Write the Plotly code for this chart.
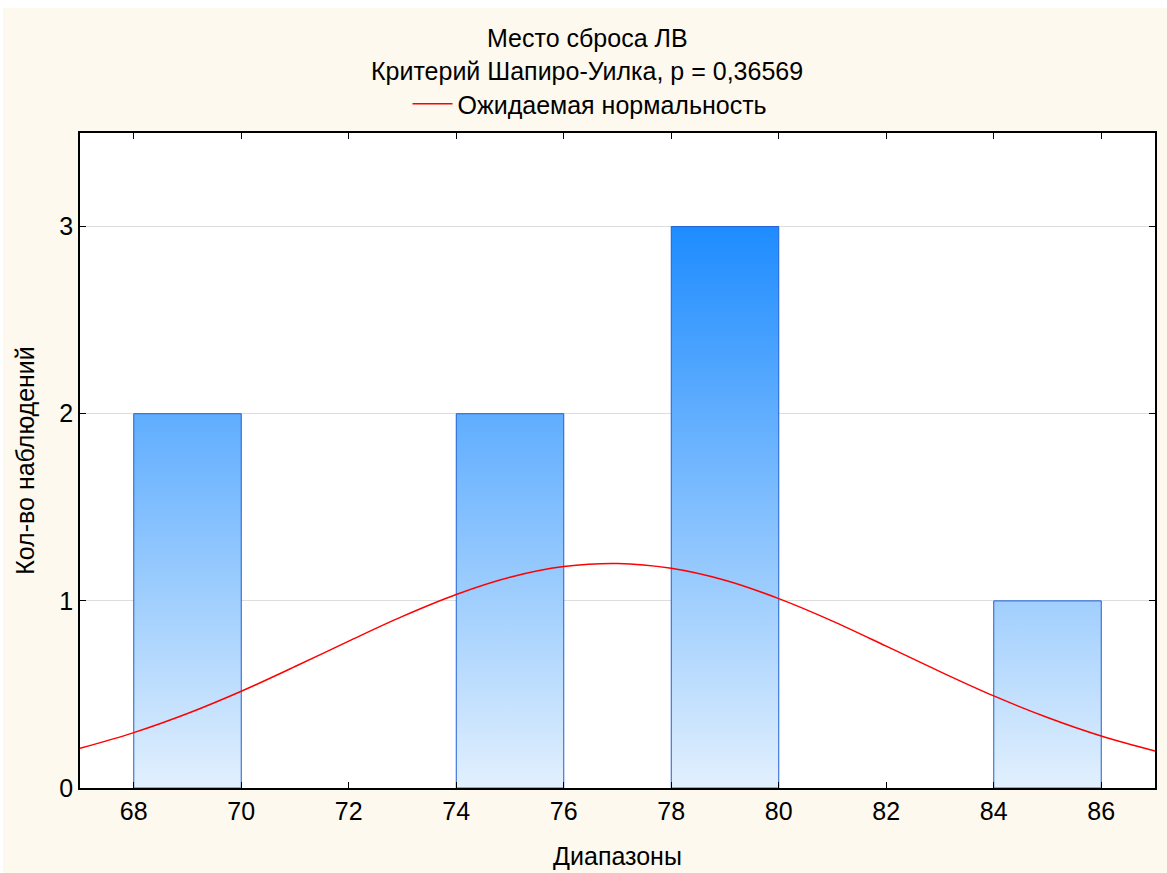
import plotly.graph_objects as go

bin_edges = [68, 70, 72, 74, 76, 78, 80, 82, 84, 86]
counts = [2, 0, 0, 2, 0, 3, 0, 0, 1]

curve_x = [67, 68, 69, 70, 71, 72, 73, 74, 75, 76, 77, 78, 79, 80, 81, 82, 83, 84, 85, 86, 87]
curve_y = [0.212, 0.296, 0.398, 0.517, 0.649, 0.785, 0.917, 1.034, 1.126, 1.183, 1.200,
           1.174, 1.110, 1.012, 0.892, 0.758, 0.622, 0.492, 0.377, 0.278, 0.198]

title1 = "Место сброса ЛВ"
title2 = "Критерий Шапиро-Уилка, p = 0,36569"
legend_name = "Ожидаемая нормальность"
x_title = "Диапазоны"
y_title = "Кол-во наблюдений"
x_ticks = [68, 70, 72, 74, 76, 78, 80, 82, 84, 86]
y_ticks = [0, 1, 2, 3]

FONT = "Liberation Sans, Arial, sans-serif"
FS = 25
fig = go.Figure()

for i, c in enumerate(counts):
    if c <= 0:
        continue
    x0, x1 = bin_edges[i], bin_edges[i + 1]
    fig.add_trace(go.Scatter(
        x=[x0, x0, x1, x1, x0], y=[0, c, c, 0, 0],
        mode="lines", fill="toself",
        line=dict(color="#1F5FD6", width=1),
        fillgradient=dict(type="vertical", start=0, stop=3,
                          colorscale=[[0, "#E2F0FD"], [1, "#1E8CFF"]]),
        showlegend=False, hoverinfo="skip",
    ))

fig.add_trace(go.Scatter(
    x=curve_x, y=curve_y, mode="lines",
    line=dict(color="#FF0000", width=1.5, shape="spline", smoothing=1),
    name=legend_name, showlegend=True,
))

W, H = 1167, 873
L, R, T, B = 80, 12, 133, 85
pw, ph = W - L - R, H - T - B

fig.add_shape(type="rect", xref="paper", yref="paper",
              x0=(3 - L) / pw, x1=(W - L) / pw, y0=-B / ph, y1=1 + (T - 8) / ph,
              fillcolor="#FDF9EE", line=dict(width=0), layer="below")
fig.add_shape(type="rect", xref="paper", yref="paper",
              x0=0, x1=1, y0=0, y1=1,
              fillcolor="white", line=dict(width=0), layer="below")

fig.add_annotation(text=title1, xref="paper", yref="paper", x=(587 - L) / pw,
                   y=1 + (T - 38) / ph, showarrow=False, xanchor="center", yanchor="middle",
                   font=dict(size=FS, color="black", family=FONT))
fig.add_annotation(text=title2, xref="paper", yref="paper", x=(587 - L) / pw,
                   y=1 + (T - 71) / ph, showarrow=False, xanchor="center", yanchor="middle",
                   font=dict(size=FS, color="black", family=FONT))

fig.update_layout(
    width=W, height=H,
    margin=dict(l=L, r=R, t=T, b=B, autoexpand=False),
    paper_bgcolor="white", plot_bgcolor="rgba(0,0,0,0)",
    font=dict(family=FONT, size=FS, color="black"),
    showlegend=True,
    legend=dict(orientation="h", x=(590 - L) / pw, xanchor="center",
                y=1 + (T - 104) / ph, yanchor="middle", bgcolor="rgba(0,0,0,0)",
                font=dict(size=FS), itemwidth=40),
    xaxis=dict(range=[67, 87], tickvals=x_ticks, ticks="inside", ticklen=6,
               tickcolor="black", showline=True, linecolor="black", linewidth=1.5,
               mirror="ticks", showgrid=False, zeroline=False, automargin=False,
               title=dict(text=x_title, font=dict(size=FS), standoff=24)),
    yaxis=dict(range=[0, 3.5], tickvals=y_ticks, ticks="inside", ticklen=6,
               tickcolor="black", showline=True, linecolor="black", linewidth=1.5,
               mirror="ticks", showgrid=True, gridcolor="#DDDDDD", gridwidth=1,
               zeroline=False, automargin=False,
               title=dict(text=y_title, font=dict(size=FS), standoff=18)),
)

fig.write_html("out.html")
